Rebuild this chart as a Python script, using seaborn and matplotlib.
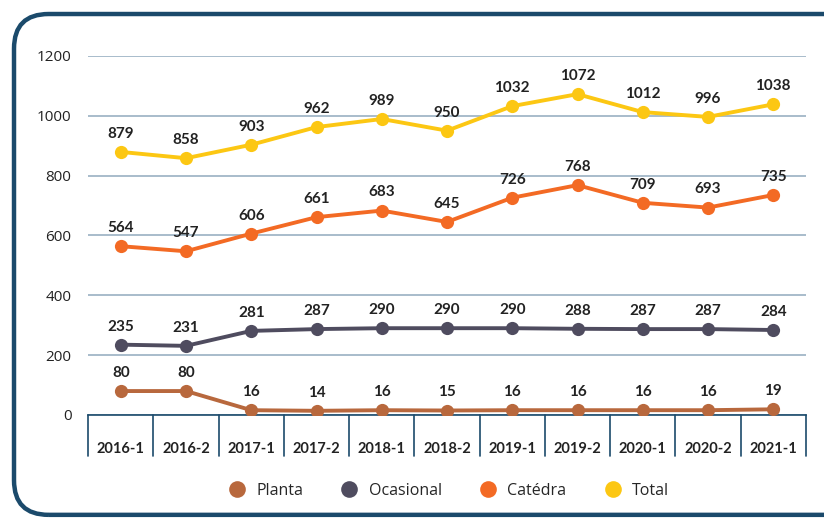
import pandas as pd
import matplotlib
matplotlib.use("Agg")
import matplotlib.pyplot as plt
import seaborn as sns
from matplotlib.patches import FancyBboxPatch
from matplotlib.lines import Line2D

periods = ["2016-1", "2016-2", "2017-1", "2017-2", "2018-1", "2018-2",
           "2019-1", "2019-2", "2020-1", "2020-2", "2021-1"]
planta = [80, 80, 16, 14, 16, 15, 16, 16, 16, 16, 19]
ocasional = [235, 231, 281, 287, 290, 290, 290, 288, 287, 287, 284]
catedra = [564, 547, 606, 661, 683, 645, 726, 768, 709, 693, 735]
total = [879, 858, 903, 962, 989, 950, 1032, 1072, 1012, 996, 1038]

series_names = ["Planta", "Ocasional", "Catédra", "Total"]
colors = {"Planta": "#b8683d", "Ocasional": "#4f4c5f",
          "Catédra": "#f36a24", "Total": "#fcc713"}

frames = []
for name, vals in zip(series_names, [planta, ocasional, catedra, total]):
    frames.append(pd.DataFrame({"periodo": periods, "valor": vals, "serie": name,
                                "x": range(len(periods))}))
df = pd.concat(frames, ignore_index=True)

sns.set_theme(style="white")
plt.rcParams["font.family"] = ["Open Sans", "DejaVu Sans"]
label_font = ["Lato", "DejaVu Sans"]

fig = plt.figure(figsize=(8.24, 5.19), dpi=100)
frame_col = "#1b4a6b"
# rounded frame running off the right edge
fig.patches.append(FancyBboxPatch((0.017, 0.008), 1.1, 0.965,
                                  boxstyle="round,pad=0,rounding_size=0.042",
                                  transform=fig.transFigure, facecolor="none",
                                  edgecolor=frame_col, linewidth=3.2,
                                  mutation_aspect=824 / 519, zorder=-1))

ax = fig.add_axes([0.107, 0.2004, 0.871, 0.692])
ax.set_facecolor("none")
sns.lineplot(data=df, x="x", y="valor", hue="serie", palette=colors,
             marker="o", markersize=9.5, markeredgewidth=0, linewidth=2.8,
             ax=ax, legend=False, zorder=3)

ax.set_xlim(-0.5, len(periods) - 0.5)
ax.set_ylim(0, 1200)
ax.set_yticks(range(0, 1201, 200))
ax.yaxis.grid(True, color="#9ab0c2", linewidth=1.2)
ax.tick_params(axis="y", length=0, labelsize=11, labelcolor="#222222", pad=12)
for s in ["top", "right", "left"]:
    ax.spines[s].set_visible(False)
ax.spines["bottom"].set_color(frame_col)
ax.spines["bottom"].set_linewidth(1.2)
ax.set_xticks([])
ax.set_xlabel("")
ax.set_ylabel("")

# category boxes under the axis
trans = ax.get_xaxis_transform()
for i in range(len(periods) + 1):
    ax.plot([i - 0.5, i - 0.5], [0, -0.115], transform=trans, color=frame_col,
            linewidth=1.2, clip_on=False)
for i, p in enumerate(periods):
    ax.text(i, -0.095, p, transform=trans, ha="center", va="center",
            fontsize=10.5, fontweight="bold", family=label_font, color="#222222")

for name, vals in zip(series_names, [planta, ocasional, catedra, total]):
    for i, v in enumerate(vals):
        ax.annotate(str(v), (i, v), xytext=(0, 8), textcoords="offset points",
                    ha="center", va="bottom", fontsize=11, fontweight="bold",
                    family=label_font, color="#222222", zorder=4)

handles = [Line2D([], [], linestyle="none", marker="o", markersize=12,
                  markerfacecolor=colors[n], markeredgewidth=0) for n in series_names]
fig.legend(handles, series_names, loc="center", bbox_to_anchor=(0.54, 0.054),
           ncol=4, frameon=False, fontsize=11.5, handletextpad=0.2,
           columnspacing=1.9)

fig.savefig("out.png", dpi=100)
